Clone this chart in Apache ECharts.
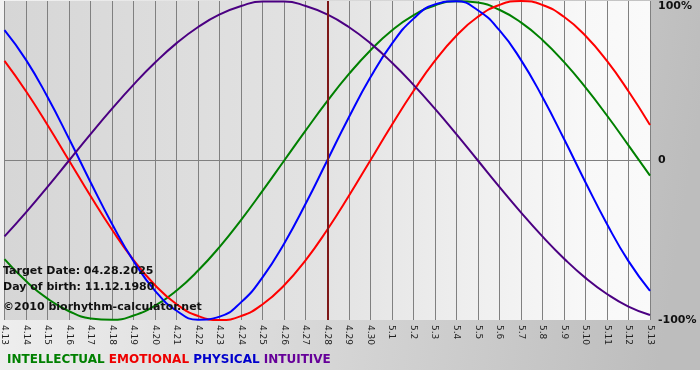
<!DOCTYPE html>
<html>
<head>
<meta charset="utf-8">
<script src="https://cdn.jsdelivr.net/npm/echarts@6/dist/echarts.min.js"></script>
<style>html,body{margin:0;padding:0;background:#fff;}#c{width:700px;height:380px;}</style>
</head>
<body>
<div id="c"></div>
<script>
const categories = ['4.13','4.14','4.15','4.16','4.17','4.18','4.19','4.20','4.21','4.22','4.23','4.24','4.25','4.26','4.27','4.28','4.29','4.30','5.1','5.2','5.3','5.4','5.5','5.6','5.7','5.8','5.9','5.10','5.11','5.12','5.13'];
const targetDay = '4.28';
const intellectual = [-0.618,-0.756,-0.866,-0.945,-0.990,-0.999,-0.972,-0.910,-0.815,-0.690,-0.541,-0.372,-0.189,0,0.189,0.372,0.541,0.690,0.815,0.910,0.972,0.999,0.990,0.945,0.866,0.756,0.618,0.458,0.282,0.095,-0.095];
const emotional = [0.624,0.434,0.223,0,-0.223,-0.434,-0.624,-0.782,-0.901,-0.975,-1,-0.975,-0.901,-0.782,-0.624,-0.434,-0.223,0,0.223,0.434,0.624,0.782,0.901,0.975,1,0.975,0.901,0.782,0.624,0.434,0.223];
const physical = [0.817,0.631,0.398,0.136,-0.136,-0.398,-0.631,-0.817,-0.942,-0.998,-0.979,-0.888,-0.731,-0.520,-0.270,0,0.270,0.520,0.731,0.888,0.979,0.998,0.942,0.817,0.631,0.398,0.136,-0.136,-0.398,-0.631,-0.817];
const intuitive = [-0.476,-0.325,-0.165,0,0.165,0.325,0.476,0.614,0.736,0.837,0.916,0.969,0.997,0.997,0.969,0.916,0.837,0.736,0.614,0.476,0.325,0.165,0,-0.165,-0.325,-0.476,-0.614,-0.736,-0.837,-0.916,-0.969];
const yTicks = {'-1':'-100%','0':'0','1':'100%'};
const seriesNames = ['INTELLECTUAL','EMOTIONAL','PHYSICAL','INTUITIVE'];
const infoLines = ['Target Date: 04.28.2025','Day of birth: 11.12.1980','©2010 biorhythm-calculator.net'];

const chart = echarts.init(document.getElementById('c'), null, {renderer:'canvas'});
const FONT = 'DejaVu Sans, Verdana, sans-serif';
function line(name, data, color){
  return {name, type:'line', data, smooth:true, symbol:'none', clip:false,
    lineStyle:{color, width:2}, itemStyle:{color}, z:3};
}
const s = [
  line(seriesNames[0], intellectual, '#008000'),
  line(seriesNames[1], emotional, '#ff0000'),
  line(seriesNames[2], physical, '#0000ff'),
  line(seriesNames[3], intuitive, '#4b0082')
];
s[0].markLine = {symbol:'none', silent:true, label:{show:false}, animation:false,
  lineStyle:{color:'#7d1818', width:2, type:'solid'}, data:[{xAxis: targetDay}]};

const LF = 'bold 12px '+FONT;
chart.setOption({
  animation:false,
  backgroundColor:'#ffffff',
  graphic:[
    {type:'rect', z:-10, silent:true, shape:{x:0,y:0,width:700,height:370},
     style:{fill:new echarts.graphic.LinearGradient(0,0,1,0.3,[{offset:0,color:'#f2f2f2'},{offset:1,color:'#bdbdbd'}])}},
    {type:'text', left:3, top:266, z:5, style:{text:infoLines[0], font:'bold 11px '+FONT, fill:'#111'}},
    {type:'text', left:3, top:282, z:5, style:{text:infoLines[1], font:'bold 11px '+FONT, fill:'#111'}},
    {type:'text', left:3, top:302, z:5, style:{text:infoLines[2], font:'bold 11px '+FONT, fill:'#111'}},
    {type:'text', left:7, top:354, z:5, style:{
      text:'{g|'+seriesNames[0]+'} {r|'+seriesNames[1]+'} {b|'+seriesNames[2]+'} {p|'+seriesNames[3]+'}',
      font:LF,
      rich:{g:{fill:'#008000',font:LF}, r:{fill:'#ee0000',font:LF},
            b:{fill:'#0000cc',font:LF}, p:{fill:'#660099',font:LF}}}}
  ],
  grid:{left:1, right:50, top:1, bottom:60, show:true, borderWidth:0,
    backgroundColor:new echarts.graphic.LinearGradient(0,0,1,0,[{offset:0,color:'#d6d6d6'},{offset:0.5,color:'#e3e3e3'},{offset:0.9,color:'#f8f8f8'},{offset:1,color:'#fafafa'}])},
  xAxis:{type:'category', data:categories, boundaryGap:false,
    axisLine:{show:true, lineStyle:{color:'#808080', width:1}},
    axisTick:{show:true, length:4, lineStyle:{color:'#808080'}},
    splitLine:{show:true, lineStyle:{color:'#808080', width:1}},
    axisLabel:{interval:0, rotate:-90, fontSize:9, fontFamily:FONT, color:'#222', margin:5}},
  yAxis:{type:'value', position:'right', min:-1, max:1, interval:1,
    axisLine:{show:false}, axisTick:{show:false},
    splitLine:{show:true, lineStyle:{color:['rgba(0,0,0,0)','#808080','rgba(0,0,0,0)'], width:1}},
    axisLabel:{margin:8, fontSize:11, fontWeight:'bold', fontFamily:FONT, color:'#111',
      verticalAlignMaxLabel:'top',
      formatter:v=>yTicks[String(v)] ?? ''}},
  series:s
});
</script>
</body>
</html>
